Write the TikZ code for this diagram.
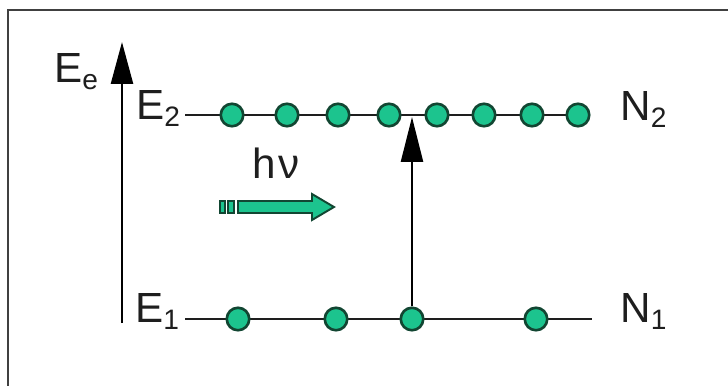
\documentclass[tikz,border=0pt]{standalone}
\usepackage{fontspec}
\setmainfont{Liberation Sans}
\usepackage{tikz}
\usetikzlibrary{arrows.meta}
\definecolor{dotgreen}{RGB}{28,196,142}
\definecolor{dotedge}{RGB}{18,70,50}
\definecolor{ink}{RGB}{30,30,30}
\newcommand{\lsub}[2]{#1\raisebox{-4pt}{\fontsize{16}{16}\selectfont #2}}
\tikzset{
  lbl/.style={inner sep=0pt,anchor=base west,text=ink,font=\fontsize{24}{24}\selectfont},
  dot/.style={circle,draw=dotedge,fill=dotgreen,line width=1.5pt,minimum size=0.45cm,inner sep=0pt},
  lvl/.style={draw=ink,line width=1.5pt},
  axarr/.style={draw=black,line width=1.4pt,-{Triangle[width=0.44cm,length=0.84cm]}},
  exarr/.style={draw=black,line width=1.4pt,-{Triangle[width=0.44cm,length=0.9cm]}},
  photon/.style={draw=dotedge,fill=dotgreen,line width=1.1pt,line join=miter}
}

\begin{document}
\begin{tikzpicture}[x=0.02cm,y=-0.02cm]
\useasboundingbox (0,0) rectangle (728,386);
% frame
\draw[ink!85,line width=1.5pt] (8,386) -- (8,10) -- (728,10);
% energy axis
\coordinate (ax0) at (122,323);
\coordinate (ax1) at (122,42);
\draw[axarr] (ax0) -- (ax1);
\node[lbl] (ee) at (54,82) {\lsub{E}{e}};
% levels
\node[lbl] (e2) at (136,119) {\lsub{E}{2}};
\node[lbl] (e1) at (135,322) {\lsub{E}{1}};
\node[lbl] (n2) at (620,120) {\lsub{N}{2}};
\node[lbl] (n1) at (620,322) {\lsub{N}{1}};
\coordinate (l2a) at (185,115);
\coordinate (l2b) at (578,115);
\coordinate (l1a) at (185,319);
\coordinate (l1b) at (592,319);
\draw[lvl] (l2a) -- (l2b);
\draw[lvl] (l1a) -- (l1b);
% populations
\foreach \x [count=\i] in {232,287,338,389,437,484,532,578}
  \node[dot] (u\i) at (\x,115) {};
\foreach \x [count=\i] in {238,336,412,536}
  \node[dot] (d\i) at (\x,319) {};
% absorption
\coordinate (ex) at (412,117);
\draw[exarr] (d3.north) -- (ex);
% incoming photon
\node[lbl] (hv) at (252,178) {h\kern1.5pt ν};
\draw[photon] (220,201) rectangle (225,213);
\draw[photon] (228,201) rectangle (234,213);
\draw[photon] (238,201) -- (312,201) -- (312,194) -- (334,207)
  -- (312,220) -- (312,213) -- (238,213) -- cycle;
\end{tikzpicture}
\end{document}
